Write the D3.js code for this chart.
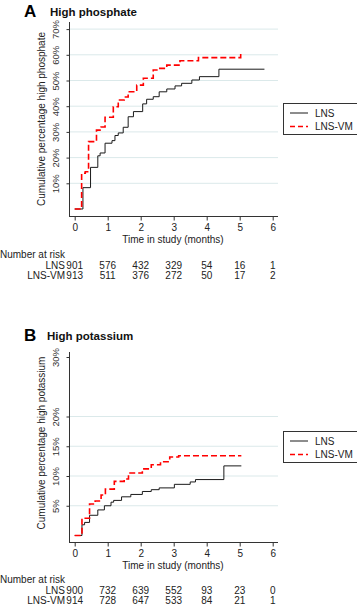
<!DOCTYPE html>
<html><head><meta charset="utf-8">
<script src="https://cdn.jsdelivr.net/npm/d3@7"></script>
<style>body{margin:0;background:#fff}svg{display:block;font-family:"Liberation Sans",Arial,sans-serif}</style>
</head><body><div id="chart"></div>
<script>
// ---- data ----
const xTicks = [0, 1, 2, 3, 4, 5, 6];
const groups = ["LNS", "LNS-VM"];

const phosTicks = [10, 20, 30, 40, 50, 60, 70];
const phosLNS = [[0,0],[0.25,8.3],[0.48,16.2],[0.70,20.7],[0.77,21.8],[0.92,25.6],[1.13,26.6],[1.22,28.6],[1.32,29.6],[1.47,31.8],[1.62,35.9],[1.78,37.9],[2.06,40.9],[2.18,42.7],[2.38,43.7],[2.56,45.6],[2.79,46.7],[3.04,47.9],[3.24,48.9],[3.55,50.2],[3.78,51.5],[4.37,54.4],[5.75,54.4]];
const phosVM = [[0,0],[0.21,13.9],[0.32,14.5],[0.42,26.2],[0.66,30.7],[0.80,31.9],[0.92,35.7],[1.17,39.8],[1.32,42.4],[1.50,43.6],[1.62,45.6],[1.88,48.2],[2.08,50.9],[2.38,54.1],[2.58,54.7],[2.79,56.0],[3.19,57.7],[3.75,58.9],[5.03,60.6],[5.03,60.6]];
const phosRisk = {"LNS":[901,576,432,329,54,16,1], "LNS-VM":[913,511,376,272,50,17,2]};

const potTicks = [5, 10, 15, 20, 30];
const potLNS = [[0,0],[0.22,1.8],[0.30,2.2],[0.45,3.4],[0.70,4.3],[0.90,5.0],[1.10,5.6],[1.18,5.9],[1.42,6.5],[1.70,6.9],[2.05,7.4],[2.32,7.7],[2.56,8.0],[3.02,8.6],[3.50,9.0],[3.66,9.4],[4.52,11.7],[5.05,11.7]];
const potVM = [[0,0],[0.22,2.9],[0.45,5.3],[0.62,5.8],[0.80,6.8],[0.93,7.8],[1.20,9.1],[1.50,9.5],[1.63,10.5],[2.05,11.2],[2.32,11.9],[2.60,12.4],[2.88,13.2],[3.15,13.4],[5.05,13.4]];
const potRisk = {"LNS":[900,732,639,552,93,23,0], "LNS-VM":[914,728,647,533,84,21,1]};

// ---- drawing ----
const W = 357, H = 606;
const svg = d3.select("#chart").append("svg").attr("width", W).attr("height", H);
const colors = {"LNS":"#1a1a1a", "LNS-VM":"#ff0000"};

function panel(o) {
  const g = svg.append("g");
  const x = d3.scaleLinear().domain([0, 6]).range([74.7, 272.7]);
  const y = d3.scaleLinear().domain([0, o.ymax]).range([o.y0, o.y0 - o.pxPerUnit * o.ymax]);

  // titles
  g.append("text").attr("x", 24).attr("y", o.titleY).attr("font-size", 17).attr("font-weight", "bold").text(o.letter);
  g.append("text").attr("x", o.titleX).attr("y", o.titleY - 1).attr("font-size", 11.5).attr("font-weight", "bold").attr("fill", "#111").text(o.title);

  // grid
  g.append("g").selectAll("line").data(o.grid).join("line")
    .attr("x1", 70).attr("x2", 278).attr("y1", d => y(d)).attr("y2", d => y(d))
    .attr("stroke", "#dbe9ea").attr("stroke-width", 1);

  // y axis
  const ya = g.append("g").attr("transform", "translate(69.5,0)")
    .call(d3.axisLeft(y).tickValues(o.yticks).tickSize(3).tickFormat(d => d + "%"));
  ya.select(".domain").attr("d", `M0,${o.axisTop}V${o.axisBot}`).attr("stroke", "#333");
  ya.selectAll(".tick line").attr("stroke", "#333");
  ya.selectAll(".tick text").attr("font-size", 9.5).attr("fill", "#333")
    .attr("font-family", "Liberation Sans, Arial, sans-serif")
    .attr("transform", "rotate(-90)").attr("x", 0).attr("y", -14).attr("dy", "0.32em")
    .attr("text-anchor", "middle");

  // x axis
  const xa = g.append("g").attr("transform", `translate(0,${o.axisBot + 0.5})`)
    .call(d3.axisBottom(x).tickValues(xTicks).tickSize(4).tickFormat(d3.format("d")));
  xa.select(".domain").attr("d", "M69,0H278").attr("stroke", "#333");
  xa.selectAll(".tick line").attr("stroke", "#333");
  xa.selectAll(".tick text").attr("font-size", 10).attr("fill", "#222").attr("y", 7)
    .attr("font-family", "Liberation Sans, Arial, sans-serif");

  g.append("text").attr("x", 173).attr("y", o.axisBot + 27).attr("text-anchor", "middle")
    .attr("font-size", 10).attr("fill", "#222").text("Time in study (months)");
  g.append("text").attr("transform", `translate(45,${o.ylabY}) rotate(-90)`).attr("text-anchor", "middle")
    .attr("font-size", 10).attr("fill", "#222").text(o.ylabel);

  // curves
  const line = d3.line().x(d => x(d[0])).y(d => y(d[1])).curve(d3.curveStepAfter);
  g.append("path").datum(o.lns).attr("d", line).attr("fill", "none")
    .attr("stroke", colors["LNS"]).attr("stroke-width", 1);
  g.append("path").datum(o.vm).attr("d", line).attr("fill", "none")
    .attr("stroke", colors["LNS-VM"]).attr("stroke-width", 1.6).attr("stroke-dasharray", "6,3");

  // legend
  const lg = g.append("g");
  lg.append("rect").attr("x", 283.5).attr("y", o.legY + 0.5).attr("width", 80).attr("height", 31)
    .attr("fill", "#fff").attr("stroke", "#333").attr("stroke-width", 1);
  groups.forEach((k, i) => {
    const yy = o.legY + 10 + i * 13.5;
    lg.append("line").attr("x1", 290).attr("x2", 308).attr("y1", yy).attr("y2", yy)
      .attr("stroke", colors[k]).attr("stroke-width", k === "LNS" ? 1 : 1.6)
      .attr("stroke-dasharray", k === "LNS" ? null : "5,3");
    lg.append("text").attr("x", 315).attr("y", yy).attr("dy", "0.35em").attr("font-size", 10)
      .attr("fill", "#222").text(k);
  });

  // number at risk
  g.append("text").attr("x", 0).attr("y", o.riskY).attr("dy", "0.35em").attr("font-size", 10)
    .attr("fill", "#222").text("Number at risk");
  groups.forEach((k, i) => {
    const yy = o.riskY + 11 + i * 10;
    g.append("text").attr("x", 65).attr("y", yy).attr("dy", "0.35em").attr("text-anchor", "end")
      .attr("font-size", 10).attr("fill", "#222").text(k);
    g.append("g").selectAll("text").data(o.risk[k]).join("text")
      .attr("x", (d, j) => x(xTicks[j])).attr("y", yy).attr("dy", "0.35em").attr("text-anchor", "middle")
      .attr("font-size", 10).attr("fill", "#222").text(d => d);
  });
}

panel({letter:"A", title:"High phosphate", titleX:50, titleY:17, ymax:72, y0:209, pxPerUnit:2.57,
  yticks:phosTicks, grid:phosTicks, axisTop:22, axisBot:216, ylabY:119,
  ylabel:"Cumulative percentage high phosphate", lns:phosLNS, vm:phosVM, legY:103, riskY:254, risk:phosRisk});

panel({letter:"B", title:"High potassium", titleX:47, titleY:341, ymax:31, y0:535.5, pxPerUnit:5.95,
  yticks:potTicks, grid:[5,10,15,20], axisTop:352, axisBot:542, ylabY:443,
  ylabel:"Cumulative percentage high potassium", lns:potLNS, vm:potVM, legY:431, riskY:579, risk:potRisk});
</script></body></html>
